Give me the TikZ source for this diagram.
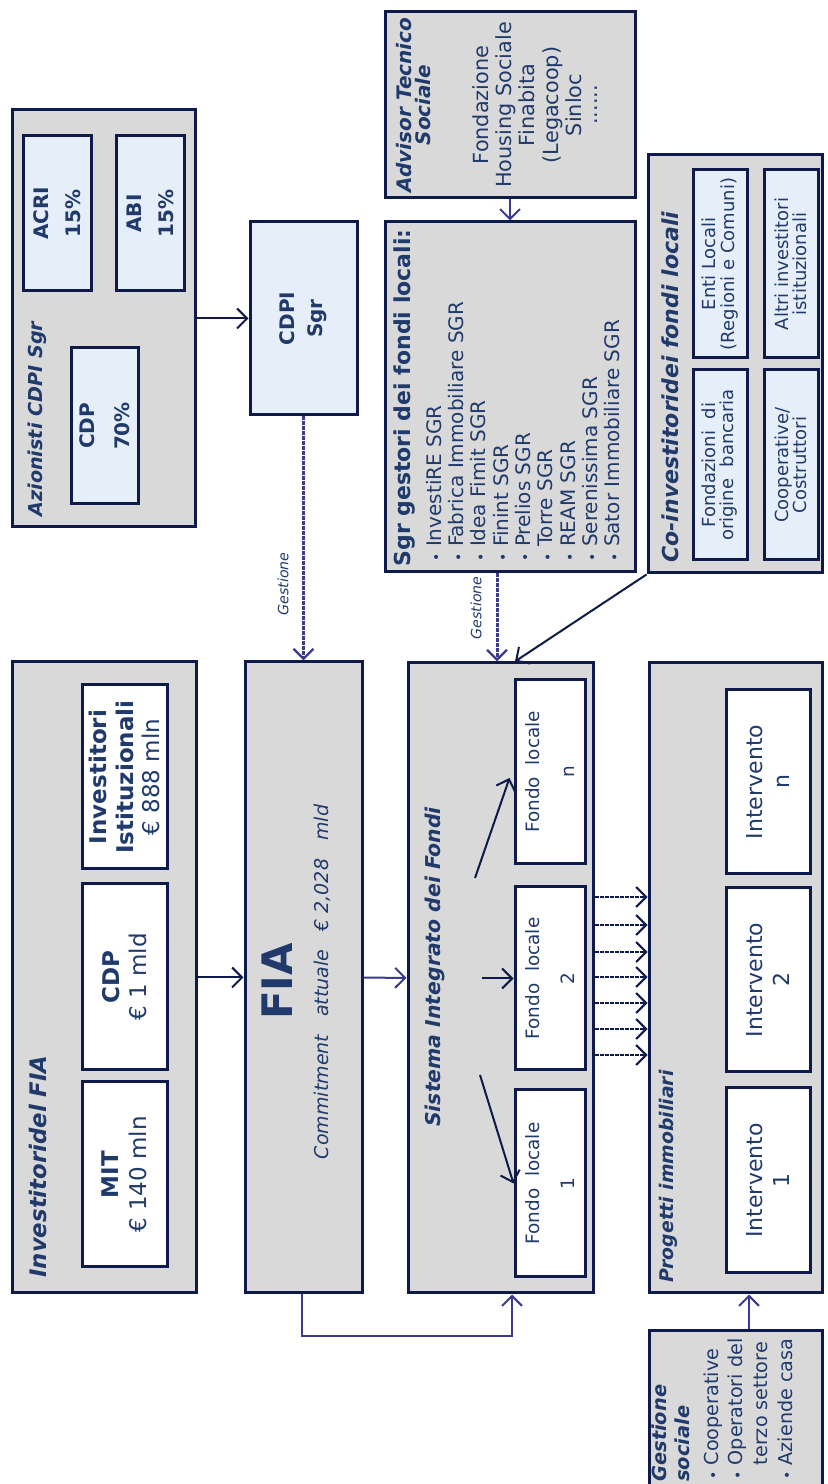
\documentclass[tikz,border=0pt]{standalone}
\usepackage{fontspec}
\setmainfont{DejaVu Sans}
\usetikzlibrary{arrows.meta,calc}
\definecolor{boxgray}{HTML}{D9D9D9}
\definecolor{lblue}{HTML}{E6EFF9}
\definecolor{navy}{HTML}{0E1A4A}
\definecolor{txt}{HTML}{1F3A6B}
\definecolor{purp}{HTML}{3B3A8E}
\tikzset{
  outer/.style={draw=navy, line width=1.5pt, fill=boxgray, inner sep=0pt, rectangle},
  innerb/.style={draw=navy, line width=1.5pt, fill=lblue, inner sep=0pt, text=txt, align=center},
  innerw/.style={draw=navy, line width=1.5pt, fill=white, inner sep=0pt, text=txt, align=center},
  ttl/.style={text=txt, inner sep=0pt, anchor=west, align=left},
  lbl/.style={text=txt, inner sep=0pt, align=center},
  arr/.style={draw=navy, line width=1pt, -{Straight Barb[length=5pt,width=10pt,line width=1pt]}},
  parr/.style={draw=purp, line width=1pt, -{Straight Barb[length=5pt,width=10pt,line width=1pt]}},
  garr/.style={draw=purp, line width=1.5pt, dash pattern=on 2pt off 0.5pt, -{Straight Barb[length=5pt,width=10pt,line width=1.2pt]}},
  darr/.style={draw=navy, line width=1.2pt, dash pattern=on 2pt off 0.5pt, -{Straight Barb[length=5pt,width=10pt,line width=1pt]}}
}
\newcommand{\blt}{{\scriptsize•}}
\begin{document}
\begin{tikzpicture}[x=0.5pt,y=0.5pt]
\useasboundingbox (0,0) rectangle (827,1484);
\begin{scope}[rotate=90, transform shape]
% ---------- Azionisti CDPI Sgr ----------
\node[outer, minimum width=208.5pt, minimum height=91.5pt] (azion) at (1165.5,-103.5) {};
\node[ttl, font=\bfseries\itshape\fontsize{9.6}{11}\selectfont] (azt) at (967,-37) {Azionisti CDPI Sgr};
\node[innerb, minimum width=77.5pt, minimum height=34pt, font=\bfseries\fontsize{10}{16}\selectfont] (acri) at (1270.5,-57.5) {ACRI\\15\%};
\node[innerb, minimum width=77.5pt, minimum height=34pt, font=\bfseries\fontsize{10}{16}\selectfont] (abi) at (1270.5,-150) {ABI\\15\%};
\node[innerb, minimum width=78pt, minimum height=33.5pt, font=\bfseries\fontsize{10}{17.5}\selectfont] (cdp70) at (1058,-104.5) {CDP\\70\%};
% ---------- CDPI Sgr ----------
\node[innerb, minimum width=96.5pt, minimum height=53.5pt, font=\bfseries\fontsize{10}{14}\selectfont] (cdpi) at (1165.5,-303.5) {CDPI\\Sgr};
% ---------- Advisor ----------
\node[outer, minimum width=93pt, minimum height=125pt] (adv) at (1379,-510) {};
\node[lbl, font=\bfseries\itshape\fontsize{10}{9.5}\selectfont] (advt) at (1379,-414) {Advisor Tecnico\\Sociale};
\node[lbl, font=\fontsize{10.4}{11.6}\selectfont] (advl) at (1379,-535) {Fondazione\\Housing Sociale\\Finabita\\(Legacoop)\\Sinloc\\[-3.5pt]......};
% ---------- Sgr gestori ----------
\node[outer, minimum width=175pt, minimum height=125pt] (sgr) at (1087,-510) {};
\node[ttl, font=\bfseries\fontsize{11}{13}\selectfont] (sgrt) at (917,-405) {Sgr gestori dei fondi locali:};
\node[ttl, font=\fontsize{10}{11.15}\selectfont] (sgrl) at (922,-523) {%
\blt{} InvestiRE SGR\\\blt{} Fabrica Immobiliare SGR\\\blt{} Idea Fimit SGR\\\blt{} Finint SGR\\\blt{} Prelios SGR\\\blt{} Torre SGR\\\blt{} REAM SGR\\\blt{} Serenissima SGR\\\blt{} Sator Immobiliare SGR};
% ---------- Co-investitori ----------
\node[outer, minimum width=209pt, minimum height=87pt] (coinv) at (1120,-735) {};
\node[ttl, font=\bfseries\itshape\fontsize{11}{13}\selectfont] (coinvt) at (921,-670) {Co-investitoridei fondi locali};
\node[innerb, minimum width=95pt, minimum height=27pt, font=\fontsize{9}{9}\selectfont] (fondaz) at (1019,-720) {Fondazioni\ \ di\\origine\ \ bancaria};
\node[innerb, minimum width=95pt, minimum height=27pt, font=\fontsize{9}{9}\selectfont] (coop) at (1019,-791) {Cooperative/\\Costruttori};
\node[innerb, minimum width=94pt, minimum height=27pt, font=\fontsize{9}{9.5}\selectfont] (enti) at (1220,-720) {Enti Locali\\(Regioni e Comuni)};
\node[innerb, minimum width=94pt, minimum height=27pt, font=\fontsize{9}{8.75}\selectfont] (altri) at (1220,-791) {Altri investitori\\istituzionali};
% ---------- Investitori del FIA ----------
\node[outer, minimum width=315.5pt, minimum height=92pt] (invfia) at (506.5,-104) {};
\node[ttl, font=\bfseries\itshape\fontsize{11.4}{13}\selectfont] (invt) at (206,-38) {Investitoridel FIA};
\node[innerw, minimum width=92pt, minimum height=42.5pt, font=\fontsize{11.5}{13.25}\selectfont] (istit) at (707,-124.5) {\textbf{Investitori}\\\textbf{Istituzionali}\\€ 888 mln};
\node[innerw, minimum width=93pt, minimum height=42.5pt, font=\fontsize{11.5}{13.5}\selectfont] (cdp1) at (507,-124.5) {\textbf{CDP}\\€ 1 mld};
\node[innerw, minimum width=92.5pt, minimum height=42.5pt, font=\fontsize{11.5}{14}\selectfont] (mit) at (309.5,-124.5) {\textbf{MIT}\\€ 140 mln};
% ---------- FIA ----------
\node[outer, minimum width=315.5pt, minimum height=58.5pt] (fia) at (506.5,-303.5) {};
\node[lbl, font=\bfseries\fontsize{21}{21}\selectfont] (fiat) at (502.5,-277.5) {FIA};
\node[lbl, font=\itshape\fontsize{9.5}{11}\selectfont] (commit) at (502,-322) {Commitment\ \ \ attuale\ \ \ € 2,028\ \ \ mld};
% ---------- Sistema Integrato ----------
\node[outer, minimum width=315pt, minimum height=92.5pt] (sist) at (506,-500.5) {};
\node[lbl, font=\bfseries\itshape\fontsize{10.2}{12}\selectfont] (sistt) at (517,-435) {Sistema Integrato dei Fondi};
\node[innerw, minimum width=93.5pt, minimum height=35pt, font=\fontsize{9.2}{17.5}\selectfont] (fl1) at (300.5,-550) {Fondo\ \ locale\\1};
\node[innerw, minimum width=91.5pt, minimum height=35pt, font=\fontsize{9.2}{17.5}\selectfont] (fl2) at (505.5,-550) {Fondo\ \ locale\\2};
\node[innerw, minimum width=92pt, minimum height=35pt, font=\fontsize{9.2}{17.5}\selectfont] (fln) at (712,-550) {Fondo\ \ locale\\n};
% ---------- Progetti immobiliari ----------
\node[outer, minimum width=315pt, minimum height=86.5pt] (prog) at (506,-735.5) {};
\node[ttl, font=\bfseries\itshape\fontsize{9.4}{11}\selectfont] (progt) at (201,-668) {Progetti immobiliari};
\node[innerw, minimum width=92.5pt, minimum height=42pt, font=\fontsize{11}{13.5}\selectfont] (int1) at (303.5,-768) {Intervento\\1};
\node[innerw, minimum width=92pt, minimum height=42pt, font=\fontsize{11}{13.5}\selectfont] (int2) at (504,-768) {Intervento\\2};
\node[innerw, minimum width=92pt, minimum height=42pt, font=\fontsize{11}{13.5}\selectfont] (intn) at (702,-768) {Intervento\\n};
% ---------- Gestione sociale ----------
\node[outer, minimum width=78pt, minimum height=86.5pt] (gsoc) at (75,-735.5) {};
\node[ttl, font=\bfseries\itshape\fontsize{9.7}{11.5}\selectfont] (gsoct) at (2,-671) {Gestione\\sociale};
\node[ttl, font=\fontsize{9.6}{12.3}\selectfont] (gsocl) at (4,-748) {\blt{} Cooperative\\\blt{} Operatori del\\\phantom{\blt{} }terzo settore\\\blt{} Aziende casa};
% ---------- connectors ----------
\draw[arr] (azion.south) -- (cdpi.north);
\draw[garr] (cdpi.west) -- (fia.east);
\node[lbl, font=\itshape\fontsize{7.1}{8}\selectfont] (gest1) at (900,-283) {Gestione};
\draw[arr] (invfia.south) -- (fia.north);
\draw[parr] (fia.south) -- (sist.north);
\draw[parr] (adv.west) -- (sgr.east);
\draw[garr] ($(sgr.west)+(0,13)$) -- ($(sist.east)+(0,3.5)$);
\node[lbl, font=\itshape\fontsize{7.1}{8}\selectfont] (gest2) at (876,-476) {Gestione};
\draw[arr] (coinv.north west) -- ($(sist.east)+(0,-14.5)$);
\coordinate (a2) at ($(fl2.north)+(0,32)$);
\draw[arr] (a2) -- (fl2.north);
\coordinate (an) at (606,-475);
\draw[arr] (an) -- ($(fln.north)+(-6,4)$);
\coordinate (a1) at (409,-480);
\draw[arr] (a1) -- (fl1.north);
\foreach \d in {81,53,26,1,-25,-51,-77}
  \draw[darr] ($(sist.south)+(\d,0)$) -- ($(prog.north)+(\d,0)$);
\draw[parr] ($(gsoc.east)+(0,-13.5)$) -- ($(prog.west)+(0,-13.5)$);
\coordinate (fb1) at ($(fia.west)+(-42,1.5)$);
\coordinate (fb2) at ($(sist.west)+(-42,-11.5)$);
\draw[parr] ($(fia.west)+(0,1.5)$) -- (fb1) -- (fb2) -- ($(sist.west)+(0,-11.5)$);
\end{scope}
\end{tikzpicture}
\end{document}
